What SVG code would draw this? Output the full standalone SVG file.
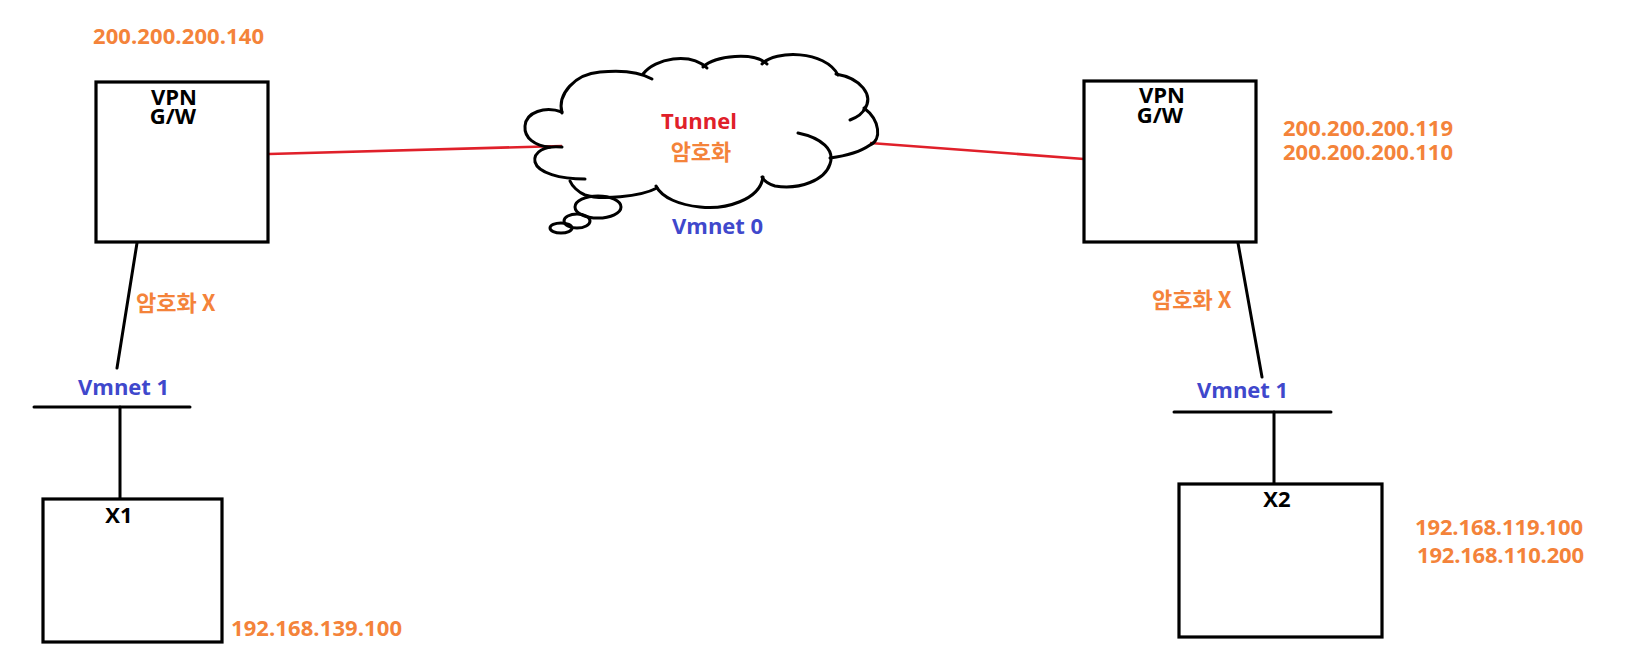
<svg xmlns="http://www.w3.org/2000/svg" width="1631" height="666" viewBox="0 0 1631 666">
<style>
.box{fill:none;stroke:#000;stroke-width:3.2}
.ln{fill:none;stroke:#000;stroke-width:3;stroke-linecap:round}
.red{fill:none;stroke:#e0202a;stroke-width:2.6}
.cl{fill:none;stroke:#000;stroke-width:3;stroke-linecap:round}
text{font-family:"Open Sans","Noto Sans CJK KR",sans-serif;font-weight:bold;font-size:22px}
.k{font-family:"Noto Sans CJK KR","Open Sans",sans-serif}
.or{fill:#f4833a}
.bl{fill:#3f48cc}
.bk{fill:#000}
.rd{fill:#e0202a}
</style>
<rect width="1631" height="666" fill="#fff"/>
<g id="connectors">
<line class="red" x1="269" y1="154" x2="562" y2="146"/>
<line class="red" x1="870" y1="143" x2="1084" y2="159"/>
<line class="ln" x1="137" y1="243" x2="117" y2="368"/>
<line class="ln" x1="1238" y1="243" x2="1262" y2="377"/>
<line class="ln" x1="34" y1="407" x2="190" y2="407"/>
<line class="ln" x1="120" y1="407" x2="120" y2="498"/>
<line class="ln" x1="1174" y1="412" x2="1331" y2="412"/>
<line class="ln" x1="1274" y1="412" x2="1274" y2="483"/>
</g>
<g id="cloud">
<path class="cl" d="M562,113 C557,94 575,74 600,72 C620,70 640,72 652,79"/>
<path class="cl" d="M643,74 C655,58 690,52 707,68"/>
<path class="cl" d="M703,67 C715,55 755,52 767,64"/>
<path class="cl" d="M762,64 C775,50 825,50 838,75"/>
<path class="cl" d="M836,74 C860,78 875,95 864,110"/>
<path class="cl" d="M850,120 C858,117 863,113 865,108"/>
<path class="cl" d="M864,108 C880,120 882,140 870,145 C860,152 845,156 830,158"/>
<path class="cl" d="M798,133 C822,138 835,150 830,164 C825,180 800,190 775,186 C768,184 764,181 762,177"/>
<path class="cl" d="M763,177 C760,200 725,210 700,207 C680,205 662,198 656,186"/>
<path class="cl" d="M657,188 C640,197 600,200 585,195 C578,192 572,186 570,181"/>
<path class="cl" d="M562,147 C545,145 533,152 535,162 C538,173 560,179 585,179"/>
<path class="cl" d="M562,112 C545,106 526,112 525,126 C524,138 535,146 550,147"/>
<ellipse class="cl" cx="598" cy="207" rx="23" ry="11"/>
<ellipse class="cl" cx="577" cy="221" rx="13" ry="7"/>
<ellipse class="cl" cx="561" cy="228" rx="11" ry="5"/>
<text class="rd" x="699" y="129" text-anchor="middle">Tunnel</text>
<text class="or k" x="701" y="160" text-anchor="middle">암호화</text>
<text class="bl" x="672" y="234">Vmnet 0</text>
</g>
<g id="vpn-left">
<rect class="box" x="96" y="82" width="172" height="160"/>
<text class="bk" x="174" y="105" text-anchor="middle">VPN</text>
<text class="bk" x="173" y="124" text-anchor="middle">G/W</text>
<text class="or" x="93" y="44" textLength="171">200.200.200.140</text>
</g>
<g id="vpn-right">
<rect class="box" x="1084" y="81" width="172" height="161"/>
<text class="bk" x="1162" y="103" text-anchor="middle">VPN</text>
<text class="bk" x="1160" y="123" text-anchor="middle">G/W</text>
<text class="or" x="1283" y="136" textLength="170">200.200.200.119</text>
<text class="or" x="1283" y="160" textLength="170">200.200.200.110</text>
</g>
<g id="label-left-link">
<text class="or k" x="136" y="311">암호화 X</text>
<text class="bl" x="78" y="395">Vmnet 1</text>
</g>
<g id="label-right-link">
<text class="or k" x="1152" y="308">암호화 X</text>
<text class="bl" x="1197" y="398">Vmnet 1</text>
</g>
<g id="x1">
<rect class="box" x="43" y="499" width="179" height="143"/>
<text class="bk" x="119" y="523" text-anchor="middle">X1</text>
<text class="or" x="231" y="636" textLength="171">192.168.139.100</text>
</g>
<g id="x2">
<rect class="box" x="1179" y="484" width="203" height="153"/>
<text class="bk" x="1277" y="507" text-anchor="middle">X2</text>
<text class="or" x="1415" y="535" textLength="168">192.168.119.100</text>
<text class="or" x="1417" y="563" textLength="167">192.168.110.200</text>
</g>
</svg>
